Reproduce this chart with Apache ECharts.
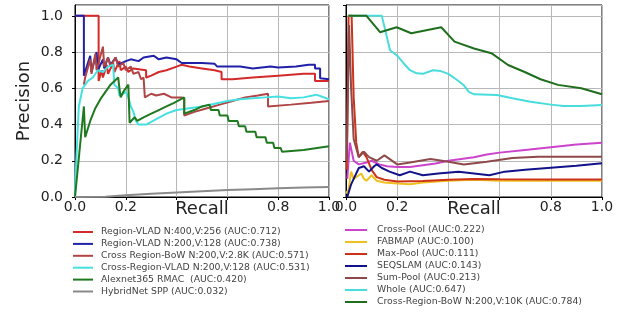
<!DOCTYPE html>
<html>
<head>
<meta charset="utf-8">
<script src="https://cdn.jsdelivr.net/npm/echarts@6.0.0/dist/echarts.min.js"></script>
<style>
html,body{margin:0;padding:0;background:#fff;}
#chart{width:628px;height:316px;}
</style>
</head>
<body>
<div id="chart"></div>
<script>
// ---------- Data (recall, precision) ----------
const xTicks = ['0.0', '0.2', '', '', '0.8', '1.0'];
const yTicks = ['0.0', '0.2', '0.4', '0.6', '0.8', '1.0'];

// Left panel
const leftNames = [
  'Region-VLAD N:400,V:256 (AUC:0.712)',
  'Region-VLAD N:200,V:128 (AUC:0.738)',
  'Cross Region-BoW N:200,V:2.8K (AUC:0.571)',
  'Cross-Region-VLAD N:200,V:128 (AUC:0.531)',
  'Alexnet365 RMAC  (AUC:0.420)',
  'HybridNet SPP (AUC:0.032)'
];
const regionVlad400 = [[0,1],[0.093,1],[0.093,0.64],[0.105,0.70],[0.11,0.66],[0.125,0.73],[0.13,0.68],[0.15,0.74],[0.155,0.69],[0.175,0.75],[0.18,0.70],[0.2,0.72],[0.21,0.69],[0.23,0.71],[0.28,0.70],[0.28,0.66],[0.3,0.67],[0.33,0.69],[0.36,0.70],[0.4,0.72],[0.42,0.73],[0.45,0.72],[0.5,0.71],[0.55,0.70],[0.577,0.69],[0.577,0.65],[0.62,0.65],[0.7,0.66],[0.8,0.67],[0.9,0.68],[0.945,0.68],[0.945,0.64],[1.0,0.64]];
const regionVlad200 = [[0,1],[0.035,1],[0.035,0.67],[0.06,0.78],[0.065,0.69],[0.085,0.80],[0.09,0.70],[0.11,0.76],[0.115,0.71],[0.13,0.77],[0.14,0.73],[0.16,0.77],[0.17,0.73],[0.2,0.75],[0.22,0.76],[0.25,0.75],[0.27,0.77],[0.31,0.78],[0.33,0.76],[0.36,0.77],[0.4,0.76],[0.42,0.74],[0.46,0.74],[0.5,0.74],[0.55,0.735],[0.56,0.72],[0.65,0.72],[0.7,0.71],[0.77,0.72],[0.8,0.715],[0.87,0.72],[0.92,0.73],[0.945,0.73],[0.945,0.71],[0.965,0.71],[0.965,0.655],[1.0,0.65]];
const crossRegionBow28 = [[0.035,0.62],[0.04,0.66],[0.06,0.76],[0.065,0.68],[0.08,0.79],[0.085,0.70],[0.11,0.83],[0.115,0.72],[0.13,0.77],[0.14,0.72],[0.16,0.77],[0.17,0.72],[0.19,0.74],[0.2,0.70],[0.22,0.72],[0.23,0.68],[0.25,0.69],[0.26,0.65],[0.27,0.66],[0.275,0.55],[0.3,0.57],[0.32,0.56],[0.35,0.57],[0.38,0.55],[0.42,0.55],[0.43,0.54],[0.43,0.45],[0.47,0.47],[0.52,0.49],[0.57,0.51],[0.62,0.53],[0.67,0.55],[0.72,0.56],[0.76,0.57],[0.76,0.50],[0.85,0.51],[0.93,0.52],[1.0,0.53]];
const crossRegionVlad = [[0,0],[0.005,0.2],[0.015,0.5],[0.03,0.6],[0.05,0.64],[0.07,0.66],[0.09,0.70],[0.11,0.69],[0.13,0.72],[0.15,0.73],[0.155,0.62],[0.17,0.6],[0.175,0.56],[0.19,0.57],[0.2,0.58],[0.21,0.55],[0.22,0.5],[0.23,0.47],[0.24,0.42],[0.25,0.40],[0.28,0.40],[0.32,0.43],[0.36,0.46],[0.4,0.48],[0.45,0.49],[0.5,0.5],[0.55,0.515],[0.6,0.53],[0.65,0.54],[0.7,0.545],[0.75,0.55],[0.8,0.555],[0.85,0.545],[0.9,0.55],[0.95,0.565],[1.0,0.54]];
const alexnetRmac = [[0,0],[0.035,0.5],[0.04,0.33],[0.06,0.42],[0.08,0.49],[0.1,0.54],[0.12,0.58],[0.14,0.62],[0.17,0.66],[0.175,0.6],[0.18,0.55],[0.19,0.58],[0.21,0.62],[0.215,0.41],[0.235,0.44],[0.245,0.42],[0.27,0.44],[0.3,0.46],[0.33,0.48],[0.36,0.5],[0.39,0.52],[0.43,0.55],[0.43,0.46],[0.47,0.48],[0.5,0.5],[0.53,0.51],[0.535,0.48],[0.565,0.48],[0.57,0.45],[0.6,0.45],[0.605,0.42],[0.64,0.42],[0.645,0.39],[0.67,0.39],[0.675,0.36],[0.71,0.36],[0.715,0.33],[0.75,0.33],[0.755,0.30],[0.78,0.30],[0.785,0.27],[0.81,0.27],[0.815,0.25],[0.9,0.26],[1.0,0.28]];
const hybridNetSpp = [[0,0],[0.12,0.002],[0.2,0.01],[0.3,0.018],[0.4,0.025],[0.5,0.032],[0.6,0.038],[0.7,0.043],[0.8,0.048],[0.9,0.052],[1.0,0.055]];

// Right panel
const rightNames = [
  'Cross-Pool (AUC:0.222)',
  'FABMAP (AUC:0.100)',
  'Max-Pool (AUC:0.111)',
  'SEQSLAM (AUC:0.143)',
  'Sum-Pool (AUC:0.213)',
  'Whole (AUC:0.647)',
  'Cross-Region-BoW N:200,V:10K (AUC:0.784)'
];
const crossPool = [[0.005,0.1],[0.015,0.3],[0.03,0.2],[0.05,0.18],[0.08,0.19],[0.1,0.2],[0.13,0.18],[0.16,0.17],[0.2,0.165],[0.25,0.165],[0.3,0.175],[0.35,0.185],[0.4,0.2],[0.45,0.21],[0.5,0.22],[0.55,0.235],[0.6,0.245],[0.7,0.26],[0.8,0.275],[0.9,0.29],[1.0,0.3]];
const fabmap = [[0,0.02],[0.01,0.04],[0.02,0.14],[0.03,0.1],[0.05,0.12],[0.06,0.13],[0.07,0.1],[0.08,0.09],[0.1,0.12],[0.12,0.09],[0.15,0.08],[0.2,0.075],[0.25,0.07],[0.3,0.08],[0.4,0.09],[0.5,0.095],[0.6,0.09],[0.7,0.09],[0.8,0.09],[0.9,0.09],[1.0,0.09]];
const maxPool = [[0.003,0.15],[0.01,1.0],[0.022,1.0],[0.03,0.55],[0.04,0.3],[0.05,0.22],[0.065,0.25],[0.08,0.22],[0.1,0.15],[0.12,0.11],[0.15,0.095],[0.2,0.085],[0.3,0.088],[0.4,0.095],[0.5,0.1],[0.6,0.098],[0.8,0.097],[1.0,0.097]];
const seqslam = [[0.005,0],[0.02,0.07],[0.03,0.1],[0.05,0.16],[0.07,0.17],[0.09,0.14],[0.11,0.17],[0.12,0.18],[0.14,0.16],[0.17,0.14],[0.21,0.12],[0.25,0.14],[0.3,0.12],[0.36,0.13],[0.44,0.14],[0.5,0.13],[0.56,0.12],[0.62,0.14],[0.7,0.15],[0.8,0.162],[0.9,0.172],[1.0,0.186]];
const sumPool = [[0.003,0.2],[0.012,0.95],[0.02,0.6],[0.03,0.32],[0.05,0.22],[0.07,0.25],[0.09,0.22],[0.12,0.2],[0.15,0.23],[0.2,0.18],[0.25,0.19],[0.33,0.21],[0.4,0.195],[0.46,0.18],[0.55,0.195],[0.65,0.215],[0.75,0.222],[0.85,0.222],[1.0,0.222]];
const whole = [[0.01,1.0],[0.14,1.0],[0.172,0.81],[0.2,0.78],[0.224,0.74],[0.25,0.70],[0.276,0.683],[0.3,0.68],[0.34,0.70],[0.37,0.695],[0.4,0.68],[0.43,0.65],[0.458,0.62],[0.48,0.58],[0.5,0.567],[0.59,0.563],[0.65,0.545],[0.72,0.526],[0.8,0.51],[0.85,0.503],[0.92,0.503],[1.0,0.508]];
const crossRegionBow10k = [[0.01,1.0],[0.08,1.0],[0.133,0.91],[0.198,0.937],[0.255,0.904],[0.372,0.937],[0.424,0.858],[0.5,0.82],[0.568,0.794],[0.633,0.729],[0.698,0.69],[0.76,0.65],[0.828,0.619],[0.919,0.6],[1.0,0.567]];

const leftData = [regionVlad400, regionVlad200, crossRegionBow28, crossRegionVlad, alexnetRmac, hybridNetSpp];
const leftColors = ['#d42a2a', '#2020a8', '#b04545', '#45e0e0', '#1f7a1f', '#8a8a8a'];
const rightData = [crossPool, fabmap, maxPool, seqslam, sumPool, whole, crossRegionBow10k];
const rightColors = ['#cc44cc', '#f0c020', '#cc3318', '#12128a', '#8e4a4a', '#48dcdc', '#1e6e1e'];

// ---------- Chart ----------
const FONT = 'DejaVu Sans';
const chart = echarts.init(document.getElementById('chart'), null, {renderer: 'canvas'});

function xAxis(gridIndex) {
  return {
    type: 'value', gridIndex, min: 0, max: 1, interval: 0.2,
    name: 'Recall', nameLocation: 'middle', nameGap: 3, nameMoveOverlap: false,
    nameTextStyle: {fontFamily: FONT, fontSize: 18, color: '#222'},
    axisLine: {show: true, onZero: false, lineStyle: {color: '#000', width: 1}},
    axisTick: {show: true, length: 3, lineStyle: {color: '#000'}},
    axisLabel: {
      fontFamily: FONT, fontSize: 14, color: '#222', margin: 3,
      formatter: v => xTicks[Math.round(v / 0.2)]
    },
    splitLine: {show: true, lineStyle: {color: '#b8b8b8', width: 1}}
  };
}
function yAxis(gridIndex, showLabels) {
  return {
    type: 'value', gridIndex, min: 0, max: 1.06, interval: 0.2,
    name: showLabels ? 'Precision' : '', nameLocation: 'middle', nameGap: 42, nameMoveOverlap: false,
    nameTextStyle: {fontFamily: FONT, fontSize: 18, color: '#222'},
    axisLine: {show: true, onZero: false, lineStyle: {color: '#000', width: 1}},
    axisTick: {show: true, length: 3, lineStyle: {color: '#000'}},
    axisLabel: {
      show: showLabels, fontFamily: FONT, fontSize: 14, color: '#222', margin: 12,
      showMaxLabel: false,
      formatter: v => yTicks[Math.round(v / 0.2)] || ''
    },
    splitLine: {show: true, lineStyle: {color: '#b8b8b8', width: 1}}
  };
}

const series = [];
leftData.forEach((d, i) => series.push({
  type: 'line', name: leftNames[i], data: d, xAxisIndex: 0, yAxisIndex: 0,
  showSymbol: false, symbol: 'none', color: leftColors[i],
  lineStyle: {width: 2, color: leftColors[i]}
}));
rightData.forEach((d, i) => series.push({
  type: 'line', name: rightNames[i], data: d, xAxisIndex: 1, yAxisIndex: 1,
  showSymbol: false, symbol: 'none', color: rightColors[i],
  lineStyle: {width: 2, color: rightColors[i]}
}));

const legendText = {fontFamily: FONT, fontSize: 9.3, color: '#444', lineHeight: 10, padding: [0, 0, 0, 3]};

chart.setOption({
  animation: false,
  backgroundColor: '#fff',
  grid: [
    {left: 75, top: 5, width: 254, height: 192, show: true, borderColor: '#000', borderWidth: 1, backgroundColor: 'transparent'},
    {left: 346, top: 5, width: 256, height: 192, show: true, borderColor: '#000', borderWidth: 1, backgroundColor: 'transparent'}
  ],
  xAxis: [xAxis(0), xAxis(1)],
  yAxis: [yAxis(0, true), yAxis(1, false)],
  legend: [
    {data: leftNames, orient: 'vertical', left: 73, top: 227, padding: 0, itemWidth: 20, itemHeight: 2, itemGap: 1.9,
     icon: 'rect', textStyle: legendText, selectedMode: false},
    {data: rightNames, orient: 'vertical', left: 345, top: 225, padding: 0, itemWidth: 22, itemHeight: 2, itemGap: 2,
     icon: 'rect', textStyle: Object.assign({}, legendText, {padding: [0, 0, 0, 5]}), selectedMode: false}
  ],
  series
});
</script>
</body>
</html>
